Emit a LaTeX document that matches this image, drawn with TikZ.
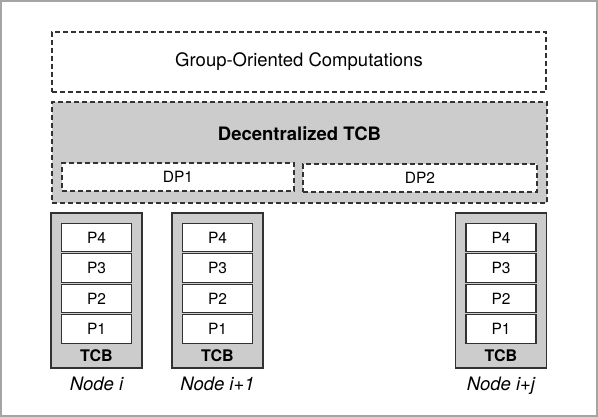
\documentclass[tikz,border=0pt]{standalone}
\usepackage{fontspec}
\setmainfont{TeX Gyre Heros}
\usetikzlibrary{positioning}
\definecolor{framegray}{RGB}{165,165,165}
\definecolor{linegray}{RGB}{50,50,50}
\definecolor{tcbfill}{RGB}{204,204,204}
\tikzset{
  dashbox/.style={draw=linegray,dash pattern=on 5pt off 3pt,line width=1.1pt,inner sep=0pt},
  tcbbox/.style={draw=linegray,fill=tcbfill,line width=1.2pt,minimum width=91pt,minimum height=155pt,inner sep=0pt},
  procbox/.style={draw=linegray,fill=white,line width=1.2pt,minimum width=70pt,minimum height=28.5pt,inner sep=0pt,font=\fontsize{15.5}{18}\selectfont},
  bigtext/.style={font=\fontsize{18.5}{21}\selectfont,inner sep=0pt},
  smalltext/.style={font=\fontsize{15.5}{18}\selectfont,inner sep=0pt}
}
\begin{document}
\begin{tikzpicture}[x=1pt,y=-1pt]
    \draw[framegray,line width=2pt] (1,1) rectangle (597,416);
    \useasboundingbox (0,0) rectangle (598,417);
    % upper layers
    \node[dashbox,minimum width=494pt,minimum height=60pt,bigtext] (goc) at (299,62) {Group-Oriented Computations};
    \node[dashbox,fill=tcbfill,minimum width=495pt,minimum height=101pt] (dtcb) at (299.5,152.5) {};
    \node[bigtext,font=\fontsize{18.5}{21}\selectfont\bfseries] (dtcblabel) at (299.5,134) {Decentralized TCB};
    \node[dashbox,fill=white,minimum width=232pt,minimum height=28pt,smalltext] (dp1) at (178,177) {DP1};
    \node[dashbox,fill=white,minimum width=234pt,minimum height=28pt,smalltext] (dp2) at (420,178) {DP2};
    % nodes
    \foreach \nx/\nm/\lbl in {96.5/ni/i, 217.5/nia/i+1, 501/nij/i+j} {
        \node[tcbbox] (\nm) at (\nx,290.5) {};
        \foreach \k [count=\r] in {4,3,2,1}
            \node[procbox] (\nm-p\k) at (\nx,237.5+30.5*\r-30.5) {P\k};
        \node[smalltext,font=\fontsize{16}{18}\selectfont\bfseries,anchor=base] (\nm-tcb) at (\nx,361) {TCB};
        \node[bigtext,font=\fontsize{18.5}{21}\selectfont\itshape,anchor=base] (\nm-label) at (\nx,390) {Node \lbl};
    }
\end{tikzpicture}
\end{document}
